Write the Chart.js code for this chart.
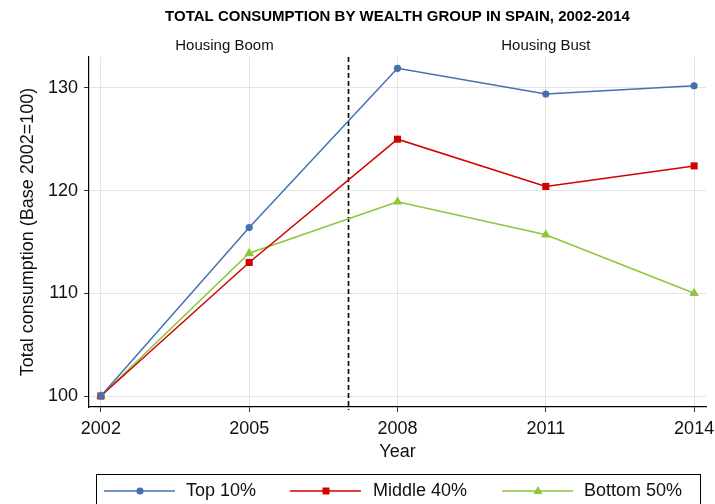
<!DOCTYPE html>
<html>
<head>
<meta charset="utf-8">
<script src="https://cdn.jsdelivr.net/npm/chart.js@4/dist/chart.umd.min.js"></script>
<style>
  html, body { margin: 0; padding: 0; background: #fff; }
</style>
</head>
<body>
<canvas id="graficoConsumo" width="715" height="504"></canvas>
<script>
// datos
const years = [2002, 2005, 2008, 2011, 2014];
const top10 = [100, 116.4, 131.9, 129.4, 130.2];
const middle40 = [100, 113.0, 125.0, 120.4, 122.4];
const bottom50 = [100, 113.9, 118.9, 115.7, 110.0];
const yTicks = [100, 110, 120, 130];
const seriesNames = ['Top 10%', 'Middle 40%', 'Bottom 50%'];
const periodLabels = ['Housing Boom', 'Housing Bust'];
const periodYears = [2004.5, 2011];
const breakYear = 2007;

const FONT = "'Liberation Sans', Arial, Helvetica, sans-serif";
const colores = ['#4470b0', '#d20000', '#8cc63c'];
const marcas = ['circle', 'rect', 'triangle'];
const radios = [3.6, 5, 5.5];

function toPoints(vals) {
    return years.map((x, i) => ({ x: x, y: vals[i] }));
}

function dibujarMarca(ctx, tipo, x, y, color) {
    ctx.save();
    ctx.fillStyle = color;
    ctx.beginPath();
    if (tipo === 'circle') {
        ctx.arc(x, y, 3.6, 0, Math.PI * 2);
    } else if (tipo === 'rect') {
        ctx.rect(x - 3.5, y - 3.5, 7, 7);
    } else {
        ctx.moveTo(x, y - 5);
        ctx.lineTo(x + 4.6, y + 3);
        ctx.lineTo(x - 4.6, y + 3);
        ctx.closePath();
    }
    ctx.fill();
    ctx.restore();
}

const extras = {
    id: 'extras',
    beforeDatasetsDraw(chart) {
        const { ctx, chartArea, scales } = chart;
        const xb = Math.round(scales.x.getPixelForValue(breakYear)) + 0.5;
        ctx.save();
        ctx.strokeStyle = '#000';
        ctx.lineWidth = 1.6;
        ctx.setLineDash([5, 3]);
        ctx.beginPath();
        ctx.moveTo(xb, chartArea.top);
        ctx.lineTo(xb, chartArea.bottom + 3);
        ctx.stroke();
        ctx.restore();

        ctx.save();
        ctx.fillStyle = '#111';
        ctx.font = '15px ' + FONT;
        ctx.textAlign = 'center';
        ctx.textBaseline = 'middle';
        periodLabels.forEach((txt, i) => {
            ctx.fillText(txt, scales.x.getPixelForValue(periodYears[i]), 46);
        });
        ctx.restore();
    },
    afterDraw(chart) {
        const ctx = chart.ctx;
        ctx.save();
        ctx.strokeStyle = '#000';
        ctx.lineWidth = 1;
        ctx.strokeRect(96.5, 474.5, 604, 40);
        const lineX = [104, 290, 502];
        const textX = [186, 373, 584];
        const yl = 491;
        ctx.font = '18px ' + FONT;
        ctx.textBaseline = 'middle';
        ctx.textAlign = 'left';
        seriesNames.forEach((nombre, i) => {
            ctx.strokeStyle = colores[i];
            ctx.lineWidth = 1.5;
            ctx.beginPath();
            ctx.moveTo(lineX[i], yl);
            ctx.lineTo(lineX[i] + 71, yl);
            ctx.stroke();
            dibujarMarca(ctx, marcas[i], lineX[i] + 36, yl, colores[i]);
            ctx.fillStyle = '#111';
            ctx.fillText(nombre, textX[i], yl);
        });
        ctx.restore();
    }
};

const datasets = [top10, middle40, bottom50].map((vals, i) => ({
    label: seriesNames[i],
    data: toPoints(vals),
    borderColor: colores[i],
    backgroundColor: colores[i],
    borderWidth: 1.5,
    pointStyle: marcas[i],
    pointRadius: radios[i],
    pointBorderWidth: 0,
    pointHoverRadius: radios[i],
    tension: 0,
    fill: false
}));

const config = {
    type: 'line',
    data: { datasets: datasets },
    options: {
        responsive: false,
        animation: false,
        devicePixelRatio: 1,
        layout: { padding: { left: 0, right: 9, top: 0, bottom: 0 } },
        plugins: {
            legend: { display: false },
            tooltip: { enabled: false },
            title: {
                display: true,
                fullSize: false,
                text: 'TOTAL CONSUMPTION BY WEALTH GROUP IN SPAIN, 2002-2014',
                color: '#000',
                font: { family: FONT, size: 15, weight: 'bold', lineHeight: 1.2 },
                padding: { top: 8, bottom: 31 }
            }
        },
        scales: {
            x: {
                type: 'linear',
                min: 2001.76,
                max: 2014.24,
                afterBuildTicks: s => { s.ticks = years.map(v => ({ value: v })); },
                afterFit: s => { s.height = 97; s.paddingLeft = 0; s.paddingRight = 0; },
                ticks: {
                    callback: v => String(v),
                    color: '#111',
                    font: { family: FONT, size: 18 },
                    padding: 6,
                    maxRotation: 0
                },
                grid: { color: '#e4e4e4', lineWidth: 1, tickColor: '#333', tickLength: 5 },
                border: { display: true, color: '#000', width: 1.2 },
                title: {
                    display: true,
                    text: 'Year',
                    color: '#111',
                    font: { family: FONT, size: 18, lineHeight: 1.2 },
                    padding: { top: 0, bottom: 41 }
                }
            },
            y: {
                type: 'linear',
                min: 98.93,
                max: 133,
                afterBuildTicks: s => { s.ticks = yTicks.map(v => ({ value: v })); },
                afterFit: s => { s.width = 89; },
                ticks: {
                    callback: v => String(v),
                    color: '#111',
                    font: { family: FONT, size: 18 },
                    padding: 6
                },
                grid: { color: '#e4e4e4', lineWidth: 1, tickColor: '#333', tickLength: 5 },
                border: { display: true, color: '#000', width: 1.2 },
                title: {
                    display: true,
                    text: 'Total consumption (Base 2002=100)',
                    color: '#111',
                    font: { family: FONT, size: 18, lineHeight: 1.2 },
                    padding: { top: 17, bottom: 0 }
                }
            }
        }
    },
    plugins: [extras]
};

new Chart(document.getElementById('graficoConsumo'), config);
</script>
</body>
</html>
